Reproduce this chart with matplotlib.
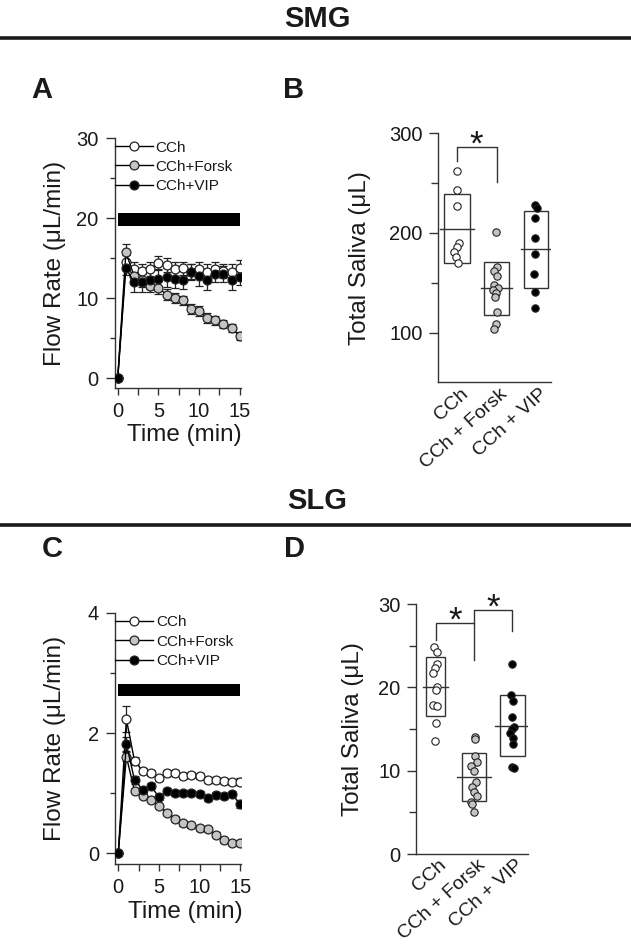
import matplotlib
matplotlib.use('Agg')
import matplotlib.pyplot as plt
from matplotlib.lines import Line2D
import matplotlib.transforms as mtransforms
import numpy as np

plt.rcParams['font.family'] = ['Liberation Sans', 'DejaVu Sans']
TXT = '#1a1a1a'
plt.rcParams['text.color'] = TXT
plt.rcParams['axes.labelcolor'] = TXT
plt.rcParams['xtick.color'] = '#333333'
plt.rcParams['ytick.color'] = '#333333'
plt.rcParams['xtick.labelcolor'] = TXT
plt.rcParams['ytick.labelcolor'] = TXT

# ---------------- data ----------------
time_min = list(range(16))
series_labels = ['CCh', 'CCh+Forsk', 'CCh+VIP']
groups = ['CCh', 'CCh + Forsk', 'CCh + VIP']
stim_window = [0, 15]

# SMG flow rate (uL/min)
smg_cch = [0, 14.5, 13.6, 13.4, 13.6, 14.4, 14.1, 13.6, 13.7, 13.3, 13.6, 13.3, 13.6, 13.4, 13.3, 13.8]
smg_cch_err = [0, 0.9, 0.9, 0.9, 0.9, 0.8, 0.9, 0.9, 0.8, 0.9, 0.9, 0.9, 0.9, 0.9, 0.9, 0.9]
smg_forsk = [0, 15.7, 12.8, 12.2, 11.5, 11.3, 10.4, 10.0, 9.7, 8.6, 8.4, 7.5, 7.2, 6.75, 6.3, 5.25]
smg_forsk_err = [0, 1.0, 0.8, 0.8, 0.8, 0.8, 0.7, 0.6, 0.6, 0.6, 0.6, 0.6, 0.6, 0.5, 0.5, 0.5]
smg_vip = [0, 13.7, 12.0, 12.0, 12.3, 12.4, 12.6, 12.4, 12.25, 13.2, 12.7, 12.25, 13.0, 13.0, 12.25, 12.6]
smg_vip_err = [0, 0.8, 1.2, 1.3, 1.2, 1.1, 1.2, 1.1, 1.1, 1.0, 1.2, 1.2, 1.0, 1.0, 1.2, 1.0]
smg_stim_level = [19.0, 20.6]

# SLG flow rate (uL/min)
slg_cch = [0, 2.23, 1.54, 1.37, 1.34, 1.26, 1.33, 1.33, 1.28, 1.31, 1.28, 1.22, 1.22, 1.21, 1.19, 1.19]
slg_cch_err = [0, 0.22, 0.07, 0.05, 0.05, 0.05, 0.05, 0.05, 0.05, 0.05, 0.05, 0.05, 0.05, 0.05, 0.05, 0.06]
slg_forsk = [0, 1.61, 1.04, 0.96, 0.89, 0.79, 0.68, 0.58, 0.50, 0.47, 0.42, 0.40, 0.31, 0.22, 0.18, 0.17]
slg_forsk_err = [0, 0.08, 0.04, 0.04, 0.04, 0.04, 0.04, 0.04, 0.04, 0.04, 0.04, 0.04, 0.04, 0.04, 0.04, 0.04]
slg_vip = [0, 1.82, 1.22, 1.06, 1.12, 0.94, 1.03, 1.00, 1.00, 1.01, 0.99, 0.92, 0.97, 0.96, 0.98, 0.82]
slg_vip_err = [0, 0.12, 0.06, 0.05, 0.05, 0.05, 0.05, 0.05, 0.05, 0.05, 0.05, 0.05, 0.05, 0.05, 0.05, 0.06]
slg_stim_level = [2.61, 2.82]

# SMG total saliva (uL)
smg_tot_cch = [262, 243, 227, 190, 186, 181, 176, 170]
smg_tot_forsk = [201, 166, 162, 157, 148, 145, 143, 140, 136, 121, 109, 104]
smg_tot_vip = [228, 225, 215, 195, 179, 159, 141, 125]

# SLG total saliva (uL)
slg_tot_cch = [24.8, 24.2, 22.8, 22.3, 21.7, 20.0, 19.7, 17.9, 17.8, 15.7, 13.6]
slg_tot_forsk = [14.0, 13.8, 11.8, 11.1, 10.6, 10.0, 8.6, 8.1, 7.5, 7.0, 6.3, 6.0, 5.1]
slg_tot_vip = [22.8, 19.1, 18.4, 16.5, 15.3, 15.0, 14.5, 13.9, 13.2, 10.5, 10.3]

# ---------------- style ----------------
# horizontal jitter for scatter points (category units)
jit_b = [[0, 0, 0, 0.05, 0, -0.06, -0.03, 0.025],
         [-0.02, 0.0, -0.06, 0.02, -0.06, 0.03, -0.09, -0.02, -0.05, 0.02, -0.01, -0.07],
         [-0.03, 0.02, -0.03, -0.03, -0.03, -0.05, -0.02, -0.03]]
jit_d = [[-0.035, 0.026, 0.044, -0.017, -0.06, 0.044, 0.009, -0.06, 0.044, 0.0, -0.017],
         [0.017, 0.017, 0.026, 0.087, -0.087, 0.0, 0.044, -0.044, 0.0, 0.07, -0.087, -0.044, 0.0],
         [0.0, -0.035, 0.026, 0.0, 0.044, -0.017, -0.06, 0.009, 0.026, -0.017, 0.044]]
fills = ['white', '#c4c4c4', 'black']
EDGE = '#222222'

W, H = 631, 947
fig = plt.figure(figsize=(W / 100, H / 100), dpi=100)


def ax_px(left, right, top, bottom):
    return fig.add_axes([left / W, 1 - bottom / H, (right - left) / W, (bottom - top) / H])


def style_axes(ax):
    for s in ['top', 'right']:
        ax.spines[s].set_visible(False)
    for s in ['left', 'bottom']:
        ax.spines[s].set_color('#333333')
        ax.spines[s].set_linewidth(1.0)
    ax.tick_params(which='both', direction='out', width=1.0, labelsize=14.5)


def timecourse(ax, data, errs, stim_level, ylim, ymaj, ymin):
    ax.fill_between(stim_window, stim_level[0], stim_level[1], color='black', lw=0, zorder=1)
    handles = []
    for y, e, fc, lab in zip(data, errs, fills, series_labels):
        ax.errorbar(time_min, y, yerr=e, fmt='none', ecolor=EDGE, elinewidth=0.9,
                    capsize=2.6, capthick=0.9, zorder=2)
        ln, = ax.plot(time_min, y, '-', color='black', lw=1.0, marker='o', ms=6.4,
                      mfc=fc, mec=EDGE, mew=0.9, zorder=3, label=lab)
        handles.append(ln)
    ax.set_xlim(-0.4, 15.1)
    ax.set_ylim(*ylim)
    ax.set_xticks([0, 5, 10, 15])
    ax.set_xticks([2.5, 7.5, 12.5], minor=True)
    ax.set_yticks(ymaj)
    ax.set_yticks(ymin, minor=True)
    style_axes(ax)
    ax.tick_params(axis='y', which='major', length=6.5, pad=5)
    ax.tick_params(axis='y', which='minor', length=3.6)
    ax.tick_params(axis='x', which='both', length=5, pad=5)
    ax.set_xlabel('Time (min)', fontsize=17.5)
    ax.set_ylabel('Flow Rate (μL/min)', fontsize=17.5)
    ax.xaxis.set_label_coords(0.556, -0.145)
    ax.yaxis.set_label_coords(-0.385, 0.5)
    leg = ax.legend(handles=handles, loc='upper left', bbox_to_anchor=(0.0, 0.99),
                    frameon=False, fontsize=11, handlelength=2.5, handletextpad=0.2,
                    borderpad=0, borderaxespad=0, labelspacing=0.35)
    for t in leg.get_texts():
        t.set_color(TXT)


def totals(ax, vals, jit, ylim, ymaj, ymin, box_w, mean_w, ms):
    pos = [1, 2, 3]
    for p, v, j, fc, bw, mw in zip(pos, vals, jit, fills, box_w, mean_w):
        v = np.asarray(v, float)
        m = v.mean()
        sd = v.std(ddof=1)
        ax.add_patch(plt.Rectangle((p - bw / 2, m - sd), bw, 2 * sd, fill=False,
                                   ec='#333333', lw=1.0, zorder=2))
        ax.plot([p - mw / 2, p + mw / 2], [m, m], color='#333333', lw=1.0, zorder=2)
        ax.plot(p + np.asarray(j), v, 'o', ms=ms, mfc=fc, mec=EDGE, mew=0.8, zorder=3)
    ax.set_xlim(0.52, 3.37)
    ax.set_ylim(*ylim)
    ax.set_yticks(ymaj)
    ax.set_yticks(ymin, minor=True)
    ax.set_xticks(pos)
    style_axes(ax)
    ax.tick_params(axis='y', which='major', length=6.5, pad=4.5)
    ax.tick_params(axis='y', which='minor', length=5)
    ax.tick_params(axis='x', length=0, pad=2, labelsize=14)
    ax.set_xticklabels(groups, rotation=42, ha='right', va='top', rotation_mode='anchor')
    off = mtransforms.ScaledTranslation(3 / 100, 0 / 100, fig.dpi_scale_trans)
    for lab in ax.get_xticklabels():
        lab.set_transform(lab.get_transform() + off)
    ax.set_ylabel('Total Saliva (μL)', fontsize=17.5)


def bracket(ax, x0, x1, ytop, y0, y1, star_y):
    ax.plot([x0, x0, x1, x1], [y0, ytop, ytop, y1], color='#333333', lw=1.0, zorder=2)
    ax.text((x0 + x1) / 2, star_y, '*', ha='center', va='center', fontsize=25,
            color=TXT)


# Panel A
axA = ax_px(114.5, 240.5, 138, 388)
timecourse(axA, [smg_cch, smg_forsk, smg_vip], [smg_cch_err, smg_forsk_err, smg_vip_err],
           smg_stim_level, (-1.25, 30), [0, 10, 20, 30], [5, 15, 25])

# Panel B
axB = ax_px(437.7, 551, 133.3, 382.3)
totals(axB, [smg_tot_cch, smg_tot_forsk, smg_tot_vip], jit_b, (50, 300), [100, 200, 300],
       [150, 250], [0.65, 0.61, 0.6], [0.86, 0.77, 0.79], 5.3)
axB.yaxis.set_label_coords(-0.585, 0.5)
bracket(axB, 1, 2, 286.6, 272, 251, 288)

# Panel C
axC = ax_px(115, 241, 612.7, 864.3)
timecourse(axC, [slg_cch, slg_forsk, slg_vip], [slg_cch_err, slg_forsk_err, slg_vip_err],
           slg_stim_level, (-0.18, 4), [0, 2, 4], [1, 3])
axC.yaxis.set_label_coords(-0.39, 0.5)
axC.xaxis.set_label_coords(0.556, -0.145)

# Panel D
axD = ax_px(415.7, 528, 604, 854)
totals(axD, [slg_tot_cch, slg_tot_forsk, slg_tot_vip], jit_d, (0, 30), [0, 10, 20, 30],
       [5, 15, 25], [0.5, 0.65, 0.65], [0.64, 0.87, 0.88], 5.3)
axD.set_xlim(0.48, 3.41)
axD.yaxis.set_label_coords(-0.46, 0.5)
bracket(axD, 1, 2, 27.7, 25.7, 23.3, 27.9)
bracket(axD, 2, 3, 29.3, 27.7, 26.8, 29.5)

# Headers, rules, panel letters
for txt, y in [('SMG', 19), ('SLG', 501)]:
    fig.text(317 / W, 1 - y / H, txt, ha='center', va='center', fontsize=21, fontweight='bold')
for y in [38, 524.5]:
    fig.add_artist(Line2D([0, 1], [1 - y / H] * 2, lw=2.6, color='#1a1a1a'))
for txt, x, y in [('A', 42, 90), ('B', 294, 90), ('C', 52, 549), ('D', 294, 549)]:
    fig.text(x / W, 1 - y / H, txt, ha='center', va='center', fontsize=21, fontweight='bold')

fig.savefig('out.png', dpi=100)
